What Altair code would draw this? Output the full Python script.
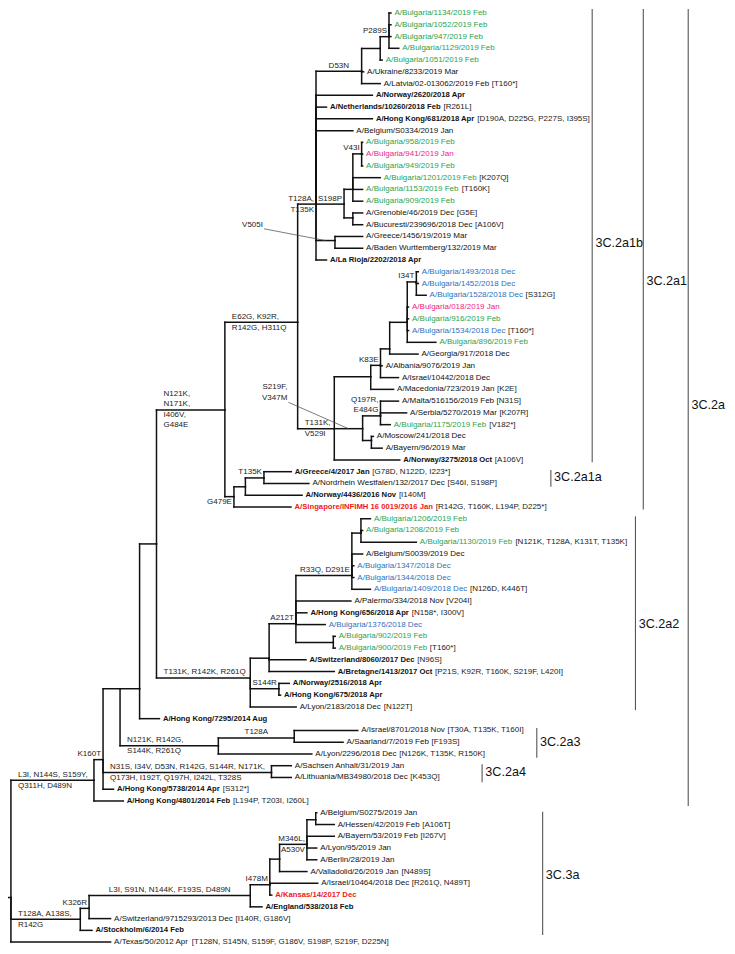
import altair as alt
import pandas as pd

# ---------------- data ----------------
leaf_names = [
    "A/Bulgaria/1134/2019 Feb", "A/Bulgaria/1052/2019 Feb", "A/Bulgaria/947/2019 Feb",
    "A/Bulgaria/1129/2019 Feb", "A/Bulgaria/1051/2019 Feb", "A/Ukraine/8233/2019 Mar",
    "A/Latvia/02-013062/2019 Feb", "A/Norway/2620/2018 Apr", "A/Netherlands/10260/2018 Feb",
    "A/Hong Kong/681/2018 Apr", "A/Belgium/S0334/2019 Jan", "A/Bulgaria/958/2019 Feb",
    "A/Bulgaria/941/2019 Jan", "A/Bulgaria/949/2019 Feb", "A/Bulgaria/1201/2019 Feb",
    "A/Bulgaria/1153/2019 Feb", "A/Bulgaria/909/2019 Feb", "A/Grenoble/46/2019 Dec",
    "A/Bucuresti/239696/2018 Dec", "A/Greece/1456/19/2019 Mar", "A/Baden Wurttemberg/132/2019 Mar",
    "A/La Rioja/2202/2018 Apr", "A/Bulgaria/1493/2018 Dec", "A/Bulgaria/1452/2018 Dec",
    "A/Bulgaria/1528/2018 Dec", "A/Bulgaria/018/2019 Jan", "A/Bulgaria/916/2019 Feb",
    "A/Bulgaria/1534/2018 Dec", "A/Bulgaria/896/2019 Feb", "A/Georgia/917/2018 Dec",
    "A/Albania/9076/2019 Jan", "A/Israel/10442/2018 Dec", "A/Macedonia/723/2019 Jan",
    "A/Malta/516156/2019 Feb", "A/Serbia/5270/2019 Mar", "A/Bulgaria/1175/2019 Feb",
    "A/Moscow/241/2018 Dec", "A/Bayern/96/2019 Mar", "A/Norway/3275/2018 Oct",
    "A/Greece/4/2017 Jan", "A/Nordrhein Westfalen/132/2017 Dec", "A/Norway/4436/2016 Nov",
    "A/Singapore/INFIMH 16 0019/2016 Jan", "A/Bulgaria/1206/2019 Feb", "A/Bulgaria/1208/2019 Feb",
    "A/Bulgaria/1130/2019 Feb", "A/Belgium/S0039/2019 Dec", "A/Bulgaria/1347/2018 Dec",
    "A/Bulgaria/1344/2018 Dec", "A/Bulgaria/1409/2018 Dec", "A/Palermo/334/2018 Nov",
    "A/Hong Kong/656/2018 Apr", "A/Bulgaria/1376/2018 Dec", "A/Bulgaria/902/2019 Feb",
    "A/Bulgaria/900/2019 Feb", "A/Switzerland/8060/2017 Dec", "A/Bretagne/1413/2017 Oct",
    "A/Norway/2516/2018 Apr", "A/Hong Kong/675/2018 Apr", "A/Lyon/2183/2018 Dec",
    "A/Hong Kong/7295/2014 Aug", "A/Israel/8701/2018 Nov", "A/Saarland/7/2019 Feb",
    "A/Lyon/2296/2018 Dec", "A/Sachsen Anhalt/31/2019 Jan", "A/Lithuania/MB34980/2018 Dec",
    "A/Hong Kong/5738/2014 Apr", "A/Hong Kong/4801/2014 Feb", "A/Belgium/S0275/2019 Jan",
    "A/Hessen/42/2019 Feb", "A/Bayern/53/2019 Feb", "A/Lyon/95/2019 Jan",
    "A/Berlin/28/2019 Jan", "A/Valladolid/26/2019 Jan", "A/Israel/10464/2018 Dec",
    "A/Kansas/14/2017 Dec", "A/England/538/2018 Feb", "A/Switzerland/9715293/2013 Dec",
    "A/Stockholm/6/2014 Feb", "A/Texas/50/2012 Apr",
]
leaf_suffix = [
    "", "", "", "", "", "", "[T160*]", "", "[R261L]", "[D190A, D225G, P227S, I395S]", "",
    "", "", "", "[K207Q]", "[T160K]", "", "[G5E]", "[A106V]", "", "", "",
    "", "", "[S312G]", "", "", "[T160*]", "", "", "", "", "[K2E]",
    "[N31S]", "[K207R]", "[V182*]", "", "", "[A106V]", "[G78D, N122D, I223*]", "[S46I, S198P]",
    "[I140M]", "[R142G, T160K, L194P, D225*]", "", "", "[N121K, T128A, K131T, T135K]", "",
    "", "", "[N126D, K446T]", "[V204I]", "[N158*, I300V]", "", "", "[T160*]", "[N96S]",
    "[P21S, K92R, T160K, S219F, L420I]", "", "", "[N122T]", "", "[T30A, T135K, T160I]",
    "[F193S]", "[N126K, T135K, R150K]", "", "[K453Q]", "[S312*]", "[L194P, T203I, I260L]",
    "", "[A106T]", "[I267V]", "", "", "[N489S]", "[R261Q, N489T]", "", "", "[I140R, G186V]",
    "", "[T128N, S145N, S159F, G186V, S198P, S219F, D225N]",
]
leaf_parent = [
    "nA", "nA", "nA", "nA", "nP289S", "nD53N", "nD53N", "n2a1b", "n2a1b", "n2a1b", "n2a1b",
    "nV43I", "nV43I", "nV43I", "nE", "nE", "nE", "nF", "nF", "nV505I", "nV505I", "n2a1b",
    "nI34T", "nI34T", "nI34T", "nJ", "nJ", "nJ", "nJ", "nI", "nH", "nH", "nG",
    "nQ197R", "nQ197R", "nQ197R", "nMB", "nMB", "nT131K", "nT135K", "nT135K", "nD", "nG479E",
    "nC", "nC", "nC", "nR33Q", "nR33Q", "nR33Q", "nR33Q", "nA212T", "nA212T", "nA212T",
    "n902", "n902", "nB", "nB", "nS144R", "nS144R", "n2a2", "nW", "nT128A", "nT128A", "n2a3",
    "n2a4", "n2a4", "nK160T", "n2a", "nBH", "nBH", "nM346L", "nM346L", "nM346L", "nX",
    "nI478M", "nI478M", "n3a", "nK326R", "n3grp", "root",
]
leaf_tip = [
    394, 394, 394, 402, 385, 366, 383, 375, 328, 375, 355,
    365, 365, 365, 383, 365, 365, 365, 365, 365, 365, 328,
    422, 422, 430, 412, 412, 412, 440, 421.7, 385, 401.7, 396.7,
    401.7, 410, 393.3, 376, 385, 403, 292, 310, 303, 291.7,
    373, 365, 420, 365, 356, 356, 373, 353, 308, 326.7,
    337, 337, 307, 336, 290, 281, 297, 157, 360, 345, 313,
    292, 292, 110, 120, 318, 336, 336, 318, 318, 308,
    319, 272, 262, 107, 88, 107,
]
# k black, b bold black, g green, p pink, u blue, r bold red
leaf_style = list(
    "gggggkkbbbk" "gpggggkkkkb" "uuupgugkkkk" "kkgkkbbkbr" "gggkuuukbu"
    "ggbbbbkbkkk" "kkbbkkkkkk" "krbkbk"
)

node_ids = ["origin", "root", "n2a", "n3grp", "nK326R", "n3a", "nI478M", "nX", "nM346L", "nBH",
            "nK160T", "nY", "nW", "nZ", "n2a1", "nE62G", "n2a1b", "nD53N", "nP289S", "nA",
            "nS198P", "nE", "nV43I", "nF", "nV505I", "nT131K", "nG", "nH", "nI", "nJ", "nI34T",
            "nK", "nQ197R", "nMB", "nG479E", "nD", "nT135K", "n2a2", "nB", "nA212T", "nR33Q",
            "nC", "n902", "nS144R", "n2a3", "nT128A", "n2a4"]
node_parent = ["", "origin", "root", "root", "n3grp", "nK326R", "n3a", "nI478M", "nX", "nM346L",
               "n2a", "nK160T", "nY", "nW", "nZ", "n2a1", "nE62G", "n2a1b", "nD53N", "nP289S",
               "n2a1b", "nS198P", "nE", "nS198P", "n2a1b", "nE62G", "nT131K", "nG", "nH", "nI", "nJ",
               "nT131K", "nK", "nK", "n2a1", "nG479E", "nD", "nZ", "n2a2", "nB", "nA212T",
               "nR33Q", "nA212T", "n2a2", "nY", "n2a3", "nK160T"]
node_x = [1, 5, 90, 76, 85, 250, 270, 280, 308, 317,
          99.3, 116.7, 136.7, 154, 224, 298.5, 317.3, 364, 383, 392,
          346, 355, 364, 355, 336.7, 336, 373.3, 383.3, 392.7, 410.7, 420,
          365, 383.3, 374, 233.3, 245, 264, 250, 269.3, 296.7, 354,
          363.3, 335, 279.3, 217.3, 295, 271.7]
node_y = [902, 902, 783, 924, 913, 900, 889, 863, 848, 823,
          762, 690, 690, 543, 407, 318, 198, 63, 40, 28,
          198, 183, 147, 212, 235, 426, 373.3, 361.7, 345, 318, 277,
          426, 413, 438, 495, 485, 476, 679, 659, 624, 575,
          532, 643, 690, 748, 740, 775]

ann_node = ["nA", "nD53N", "n2a1b", "nS198P", "nV43I", "nI34T", "nH", "nQ197R", "nT131K",
            "nE62G", "n2a1", "nG479E", "nT135K", "nR33Q", "nA212T", "n2a2", "nS144R",
            "nT128A", "n2a3", "n2a4", "nK160T", "n2a", "nK326R", "n3grp", "n3a", "nI478M",
            "nM346L"]
ann_text = ["P289S", "D53N", "T128A,|T135K", "S198P", "V43I", "I34T", "K83E", "Q197R,|E484G",
            "T131K,|V529I", "E62G, K92R,|R142G, H311Q", "N121K,|N171K,|I406V,|G484E", "G479E",
            "T135K", "R33Q, D291E", "A212T", "T131K, R142K, R261Q", "S144R", "T128A",
            "N121K, R142G,|S144K, R261Q",
            "N31S, I34V, D53N, R142G, S144R, N171K,|Q173H, I192T, Q197H, I242L, T328S",
            "K160T", "L3I, N144S, S159Y,|Q311H, D489N", "K326R", "T128A, A138S,|R142G",
            "L3I, S91N, N144K, F193S, D489N", "I478M", "M346L,|A530V"]
ann_mode = ["end", "mid", "end", "end", "end", "end", "end", "end", "start",
            "start", "start", "end", "end", "end", "end", "start", "end",
            "mid", "start", "start", "end", "start", "end", "start", "mid", "end", "end"]
ann_above = [1, 1, 1, 1, 1, 1, 1, 2, 1, 1, 2, 0, 1, 1, 1, 1, 1, 1, 1, 1, 1, 1, 1, 1, 1, 1, 1]

call_node = ["nV505I", "nK"]
call_text = ["V505I", "S219F,|V347M"]
call_x = [263, 288]
call_y = [219, 383.3]

clade_names = ["3C.2a1b", "3C.2a1a", "3C.2a1", "3C.2a", "3C.2a2", "3C.2a3", "3C.2a4", "3C.3a"]
clade_x = [600, 557.7, 652.3, 698.3, 644.3, 543.3, 487.3, 549.3]
clade_top = [0, 468, 0, 0, 515, 730, 766.7, 815]
clade_bottom = [460, 485, 508, 809, 711.7, 760, 785, 940]
clade_label_y = [237, 475, 276, 402, 624, 744, 775, 879]

# ---------------- layout helpers ----------------
W, H = 719, 938
XD = [2, 738]
YD = [-1.1, 951.2]
kx = W / (XD[1] - XD[0])
ky = H / (YD[1] - YD[0])
ROW0, ROWSTEP = 4, 11.94
FS, FS_B = 8, 7.7
FONT = "Liberation Sans"

COLORS = {"k": "#111111", "b": "#111111", "g": "#2aa34f", "p": "#ec1c7f",
          "u": "#2f72c0", "r": "#f01818"}

up = "ABCDEFGHIJKLMNOPQRSTUVWXYZ"
lo = "abcdefghijklmnopqrstuvwxyz"
REG = dict(zip(up, [667, 667, 722, 722, 667, 611, 778, 722, 278, 500, 667, 556, 833, 722, 778,
                    667, 778, 722, 667, 611, 722, 667, 944, 667, 667, 611]))
REG.update(zip(lo, [556, 556, 500, 556, 556, 278, 556, 556, 222, 222, 500, 222, 833, 556, 556,
                    556, 556, 333, 500, 278, 556, 500, 722, 500, 500, 500]))
BOLD = dict(zip(up, [722, 722, 722, 722, 667, 611, 778, 722, 278, 556, 722, 611, 833, 722, 778,
                     667, 778, 722, 667, 611, 722, 667, 944, 667, 667, 611]))
BOLD.update(zip(lo, [556, 611, 556, 611, 556, 333, 611, 611, 278, 278, 556, 278, 889, 611, 611,
                     611, 611, 389, 556, 333, 611, 556, 778, 556, 556, 500]))
for d, extra in ((REG, {"[": 278, "]": 278}), (BOLD, {"[": 333, "]": 333})):
    d.update({c: 556 for c in "0123456789"})
    d.update({" ": 278, "/": 278, "-": 333, ",": 278, ".": 278, "*": 389})
    d.update(extra)


def text_w(s, bold, size):
    tab = BOLD if bold else REG
    return sum(tab.get(c, 556) for c in s) * size / 1000.0


nodes = {}
for i, nid in enumerate(node_ids):
    nodes[nid] = (node_parent[i], node_x[i], node_y[i])
for i, nm in enumerate(leaf_names):
    nodes["L%d" % i] = (leaf_parent[i], leaf_tip[i], ROW0 + i * ROWSTEP)

seg = []
for nid, (par, x, y) in nodes.items():
    if not par:
        continue
    _, px, py = nodes[par]
    if abs(py - y) > 0.01:
        seg.append(dict(x=px, x2=px, y=py, y2=y))
    if abs(x - px) > 0.01:
        seg.append(dict(x=px, x2=x, y=y, y2=y))
seg_df = pd.DataFrame(seg)

GAP = 3.5
names_rows, suf_rows = [], []
for i, nm in enumerate(leaf_names):
    st = leaf_style[i]
    bold = st in ("b", "r")
    fs = FS_B if bold else FS
    y = ROW0 + i * ROWSTEP
    x0 = leaf_tip[i] + GAP / kx
    names_rows.append(dict(x=x0, y=y, t=nm, col=COLORS[st], bold=bold))
    if leaf_suffix[i]:
        xs_ = x0 + (text_w(nm, bold, fs) + 2.6) / kx
        suf_rows.append(dict(x=xs_, y=y, t=leaf_suffix[i]))
names_df = pd.DataFrame(names_rows)
suf_df = pd.DataFrame(suf_rows)

ann_rows = []
for nid, txt, mode, above in zip(ann_node, ann_text, ann_mode, ann_above):
    par, x, y = nodes[nid]
    _, px, _ = nodes[par]
    lines = txt.split("|")
    for j, ln in enumerate(lines):
        if j < above:
            off = -(5.5 + (above - 1 - j) * 10)
        else:
            off = 5.5 + (j - above) * 10
        if mode == "end":
            ax, al = x - 2 / kx, "right"
        elif mode == "start":
            ax, al = px + 7 / kx, "left"
        else:
            ax, al = (px + x) / 2, "center"
        ann_rows.append(dict(x=ax, y=y + off / ky, t=ln, al=al))
for nid, txt, cx, cy in zip(call_node, call_text, call_x, call_y):
    for j, ln in enumerate(txt.split("|")):
        ann_rows.append(dict(x=cx, y=cy + j * 11.7 / ky, t=ln, al="right"))
ann_df = pd.DataFrame(ann_rows)

lead = []
for nid, txt, cx, cy in zip(call_node, call_text, call_x, call_y):
    par, x, y = nodes[nid]
    _, px, _ = nodes[par]
    nl = len(txt.split("|"))
    lead.append(dict(x=cx + 1 / kx, y=cy + ((nl - 1) * 11.7 + 4) / ky, x2=(px + x) / 2, y2=y))
lead_df = pd.DataFrame(lead)

br_df = pd.DataFrame(dict(x=clade_x, y=clade_top, y2=clade_bottom))
cl_df = pd.DataFrame(dict(x=[v + 3.2 / kx for v in clade_x], y=clade_label_y, t=clade_names))

# ---------------- chart ----------------
xs = alt.Scale(domain=XD, nice=False, zero=False)
ys = alt.Scale(domain=YD, nice=False, zero=False, reverse=True)


def X(f="x"):
    return alt.X(f + ":Q", scale=xs, axis=None)


def Y(f="y"):
    return alt.Y(f + ":Q", scale=ys, axis=None)


tree = alt.Chart(seg_df).mark_rule(color="#111111", strokeWidth=1.5, strokeCap="square").encode(
    x=X(), x2="x2:Q", y=Y(), y2="y2:Q")
leaders = alt.Chart(lead_df).mark_rule(color="#444444", strokeWidth=0.7).encode(
    x=X(), x2="x2:Q", y=Y(), y2="y2:Q")
brackets = alt.Chart(br_df).mark_rule(color="#555555", strokeWidth=1.1).encode(
    x=X(), y=Y(), y2="y2:Q")

reg_names = alt.Chart(names_df[~names_df.bold]).mark_text(
    align="left", baseline="middle", font=FONT, fontSize=FS).encode(
    x=X(), y=Y(), text="t:N", color=alt.Color("col:N", scale=None))
bold_names = alt.Chart(names_df[names_df.bold]).mark_text(
    align="left", baseline="middle", font=FONT, fontSize=FS_B, fontWeight="bold").encode(
    x=X(), y=Y(), text="t:N", color=alt.Color("col:N", scale=None))
suffixes = alt.Chart(suf_df).mark_text(
    align="left", baseline="middle", font=FONT, fontSize=FS, color="#222222").encode(
    x=X(), y=Y(), text="t:N")

ann_layers = []
for al in ("left", "right", "center"):
    sub = ann_df[ann_df.al == al]
    if len(sub):
        ann_layers.append(alt.Chart(sub).mark_text(
            align=al, baseline="middle", font=FONT, fontSize=FS, color="#222222").encode(
            x=X(), y=Y(), text="t:N"))

clade_lbl = alt.Chart(cl_df).mark_text(
    align="left", baseline="middle", font=FONT, fontSize=12.6, color="#111111").encode(
    x=X(), y=Y(), text="t:N")

chart = alt.layer(tree, leaders, brackets, reg_names, bold_names, suffixes, *ann_layers,
                  clade_lbl).properties(
    width=W, height=H, padding=0, autosize=alt.AutoSizeParams(type="none")
).configure_view(strokeWidth=0)

chart.save("out.html", embed_options={"renderer": "svg", "actions": False})
